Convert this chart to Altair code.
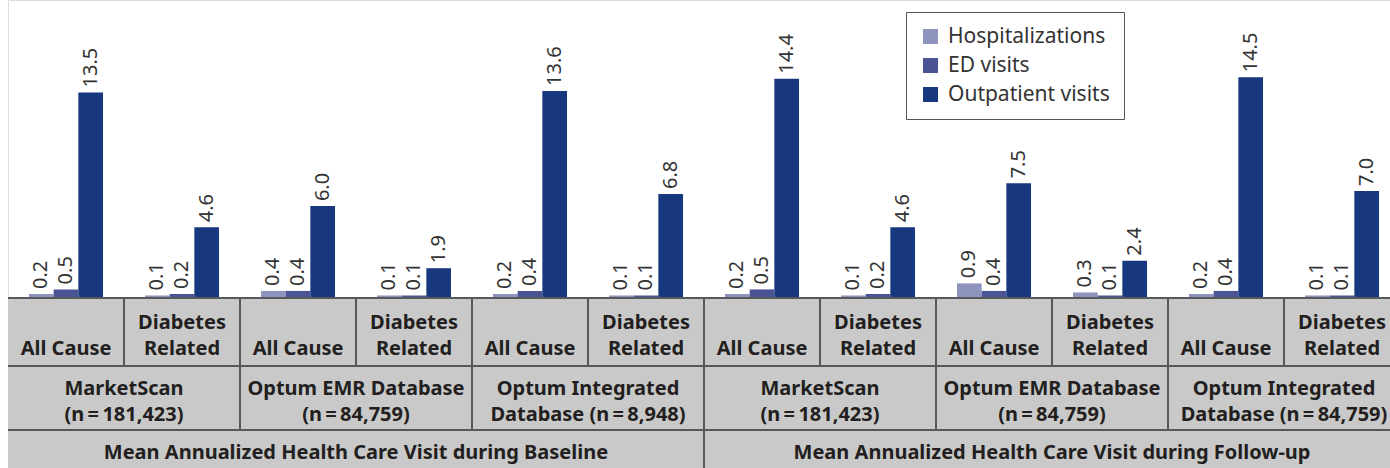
import altair as alt
import pandas as pd

# ---- data ----
group_keys = [f"G{i:02d}" for i in range(1, 13)]
cause_line1 = ["", "Diabetes"] * 6
cause_line2 = ["All Cause", "Related"] * 6
db_line1 = ["MarketScan", "Optum EMR Database", "Optum Integrated",
            "MarketScan", "Optum EMR Database", "Optum Integrated"]
db_line2 = ["(n\u2009=\u2009181,423)", "(n\u2009=\u200984,759)", "Database (n\u2009=\u20098,948)",
            "(n\u2009=\u2009181,423)", "(n\u2009=\u200984,759)", "Database (n\u2009=\u200984,759)"]
periods = [
    "Mean Annualized Health Care Visit during Baseline",
    "Mean Annualized Health Care Visit during Follow-up",
]
series_names = ["Hospitalizations", "ED visits", "Outpatient visits"]
hospitalizations = [0.2, 0.1, 0.4, 0.1, 0.2, 0.1, 0.2, 0.1, 0.9, 0.3, 0.2, 0.1]
ed_visits = [0.5, 0.2, 0.4, 0.1, 0.4, 0.1, 0.5, 0.2, 0.4, 0.1, 0.4, 0.1]
outpatient_visits = [13.5, 4.6, 6.0, 1.9, 13.6, 6.8, 14.4, 4.6, 7.5, 2.4, 14.5, 7.0]
colors = ["#8f94bf", "#4a5494", "#17377e"]

# ---- tables built from the lists ----
rows = []
for s, vals in zip(series_names, [hospitalizations, ed_visits, outpatient_visits]):
    for k, v in zip(group_keys, vals):
        rows.append({"key": k, "series": s, "value": v, "label": f"{v:.1f}"})
bars_df = pd.DataFrame(rows)

cells_df = pd.DataFrame({"key": group_keys, "l1": cause_line1, "l2": cause_line2})
sep1_df = pd.DataFrame({"key": group_keys[1:]})
db_df = pd.DataFrame({"key": group_keys[1::2], "l1": db_line1, "l2": db_line2})
sep2_df = pd.DataFrame({"key": group_keys[2::2]})
period_df = pd.DataFrame({"key": [group_keys[3], group_keys[9]], "period": periods})
sep3_df = pd.DataFrame({"key": [group_keys[6]]})

FONT = "Noto Sans"
LINE = "#58595b"
TXT = "#231f20"
x_scale = alt.Scale(domain=group_keys, range=[0, 1392], paddingInner=0, paddingOuter=0)
y_scale = alt.Scale(domain=[0, 19.6])
xo = alt.XOffset("series:N", sort=series_names,
                 scale=alt.Scale(domain=series_names, paddingOuter=0.85, paddingInner=0))

def X(start=False):
    if start:
        return alt.X("key:N", scale=x_scale, axis=None, bandPosition=0)
    return alt.X("key:N", scale=x_scale, axis=None)

bars = alt.Chart(bars_df).mark_bar().encode(
    x=X(), xOffset=xo,
    y=alt.Y("value:Q", scale=y_scale, axis=None),
    color=alt.Color("series:N", sort=series_names,
                    scale=alt.Scale(domain=series_names, range=colors),
                    legend=alt.Legend(title=None, orient="none", legendX=898, legendY=12,
                                      fillColor="white", strokeColor="#555555",
                                      padding=14, symbolType="square", symbolSize=225,
                                      symbolStrokeWidth=0, labelFont=FONT, labelFontSize=21,
                                      labelLimit=400,
                                      labelColor="#333333", labelOffset=7, rowPadding=7)),
)
labels = alt.Chart(bars_df).mark_text(
    angle=270, align="left", baseline="middle", dx=5, font=FONT, fontSize=20, color="#333333"
).encode(x=X(), xOffset=xo, y=alt.Y("value:Q", scale=y_scale), text="label:N")

bg = alt.Chart(cells_df).mark_rect(color="#c8c9c8").encode(
    x=X(), y=alt.value(298), y2=alt.value(468))

def txt(df, field, y, start=False):
    return alt.Chart(df).mark_text(
        font=FONT, fontSize=20, fontWeight="bold", color=TXT, baseline="middle", align="center"
    ).encode(x=X(start), y=alt.value(y), text=f"{field}:N")

cause1 = txt(cells_df, "l1", 323)
cause2 = txt(cells_df, "l2", 349)
db1 = txt(db_df, "l1", 389, True)
db2 = txt(db_df, "l2", 415, True)
per_txt = txt(period_df, "period", 453, True)

sep1 = alt.Chart(sep1_df).mark_rule(color=LINE, strokeWidth=2).encode(
    x=X(True), y=alt.value(298), y2=alt.value(366))
sep2 = alt.Chart(sep2_df).mark_rule(color=LINE, strokeWidth=2).encode(
    x=X(True), y=alt.value(366), y2=alt.value(430))
sep3 = alt.Chart(sep3_df).mark_rule(color=LINE, strokeWidth=2).encode(
    x=X(True), y=alt.value(430), y2=alt.value(468))
hlines = alt.Chart(pd.DataFrame({"yy": [298, 366, 430]})).mark_rule(color=LINE, strokeWidth=2).encode(
    x=alt.value(0), x2=alt.value(1392), y=alt.Y("yy:Q", scale=None))

chart = alt.layer(bg, sep1, sep2, sep3, hlines, bars, labels,
                  cause1, cause2, db1, db2, per_txt).properties(
    width=1382, height=297,
    autosize=alt.AutoSizeParams(type="none"),
    padding={"left": 8, "right": 0, "top": 0, "bottom": 171},
).configure_view(stroke=None).configure(background="white")

chart.save("out.html", embed_options={"renderer": "svg", "actions": False})
